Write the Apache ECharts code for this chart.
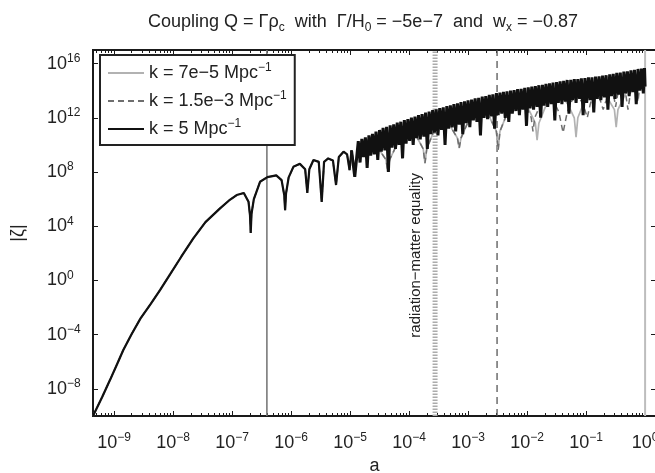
<!DOCTYPE html>
<html><head><meta charset="utf-8">
<script src="https://cdn.jsdelivr.net/npm/echarts@6/dist/echarts.min.js"></script>
<style>html,body{margin:0;padding:0;background:#fff}#c{width:655px;height:473px}</style>
</head><body><div id="c"></div>
<script>
// ---- data (log10 a, log10 |zeta|) ----
// shared super-horizon part (all three k identical, k=5 drawn on top)
const earlyLogA = [-9.356,-9.20,-9.068,-8.95,-8.842,-8.70,-8.55,-8.38,-8.22,-8.05,-7.86,-7.656,-7.45,-7.203,-7.05,-6.92,-6.80,-6.72,-6.695,-6.683,-6.67,-6.63,-6.525,-6.40,-6.25,-6.16,-6.115,-6.10,-6.085,-6.04,-5.96,-5.85,-5.76,-5.724,-5.69,-5.62,-5.53,-5.48,-5.44,-5.37,-5.29,-5.237,-5.19,-5.11,-5.05,-5.008,-4.975];
const earlyLogZeta = [-10.0,-8.6,-7.35,-6.2,-5.13,-3.95,-2.8,-1.75,-0.71,0.45,1.75,3.10,4.30,5.32,5.90,6.30,6.45,5.8,4.8,3.5,4.9,6.0,7.28,7.62,7.75,7.4,6.3,5.19,6.4,7.6,8.38,8.6,8.2,6.45,8.2,8.88,8.75,5.80,8.75,9.0,8.85,7.04,9.1,9.5,9.3,8.14,9.6];

// k = 5 Mpc^-1 after horizon crossing: crests and troughs of the dense oscillation
const k5CrestLogA = [-4.975,-4.86,-4.80,-4.74,-4.68,-4.62,-4.56,-4.50,-4.44,-4.38,-4.32,
  -4.26,-4.20,-4.14,-4.08,-4.02,-3.96,-3.90,-3.84,-3.78,-3.72,
  -3.66,-3.60,-3.54,-3.48,-3.42,-3.36,-3.30,-3.24,-3.18,-3.12,
  -3.06,-3.00,-2.94,-2.88,-2.82,-2.76,-2.70,-2.64,-2.58,-2.52,
  -2.46,-2.40,-2.34,-2.28,-2.22,-2.16,-2.10,-2.04,-1.98,-1.92,
  -1.86,-1.80,-1.74,-1.68,-1.62,-1.56,-1.50,-1.44,-1.38,-1.32,
  -1.26,-1.20,-1.14,-1.08,-1.02,-0.96,-0.90,-0.84,-0.78,-0.72,
  -0.66,-0.60,-0.54,-0.48,-0.42,-0.36,-0.30,-0.24,-0.18,-0.12,
  -0.06,-0.01];
const k5CrestLogZeta = [9.6,10.28,10.44,10.55,10.70,10.82,10.98,11.10,11.25,11.33,11.44,
  11.52,11.64,11.71,11.83,11.91,12.02,12.09,12.20,12.27,12.38,
  12.45,12.56,12.62,12.71,12.77,12.86,12.91,13.01,13.06,13.15,
  13.21,13.29,13.34,13.43,13.47,13.56,13.60,13.69,13.73,13.82,
  13.85,13.92,13.95,14.01,14.04,14.11,14.14,14.21,14.24,14.30,
  14.33,14.40,14.43,14.50,14.53,14.60,14.63,14.69,14.72,14.79,
  14.80,14.85,14.86,14.91,14.92,14.98,14.99,15.04,15.05,15.11,
  15.14,15.21,15.24,15.31,15.34,15.40,15.43,15.50,15.53,15.60,
  15.62,15.67];
const k5TroughLogA = [-4.92,
  -4.83,-4.77,-4.71,-4.65,-4.59,-4.53,-4.47,-4.41,-4.35,-4.29,
  -4.23,-4.17,-4.11,-4.05,-3.99,-3.93,-3.87,-3.81,-3.75,-3.69,
  -3.63,-3.57,-3.51,-3.45,-3.39,-3.33,-3.27,-3.21,-3.15,-3.09,
  -3.03,-2.97,-2.91,-2.85,-2.79,-2.73,-2.67,-2.61,-2.55,-2.49,
  -2.43,-2.37,-2.31,-2.25,-2.19,-2.13,-2.07,-2.01,-1.95,-1.89,
  -1.83,-1.77,-1.71,-1.65,-1.59,-1.53,-1.47,-1.41,-1.35,-1.29,
  -1.23,-1.17,-1.11,-1.05,-0.99,-0.93,-0.87,-0.81,-0.75,-0.69,
  -0.63,-0.57,-0.51,-0.45,-0.39,-0.33,-0.27,-0.21,-0.15,-0.09,
  -0.03,0.00];
const k5TroughLogZeta = [7.65,
  8.7,9.1,8.3,9.2,9.3,8.9,9.5,9.6,8.0,9.8,
  9.7,10.0,9.0,10.1,10.3,10.0,10.5,10.4,10.6,9.7,
  10.8,10.9,10.7,11.1,10.0,11.2,11.3,11.0,11.5,10.8,
  11.6,11.3,11.8,11.7,10.7,12.0,11.9,12.1,11.2,12.2,
  12.3,12.0,11.7,12.3,12.5,12.2,12.6,11.4,12.7,12.6,
  12.8,12.0,12.9,12.8,13.0,11.8,13.1,13.0,13.2,12.3,
  13.3,13.1,13.4,12.2,13.1,13.3,12.4,13.4,13.3,13.5,
  12.6,13.6,13.4,13.7,12.8,13.8,13.6,13.9,13.0,14.0,
  13.8,14.3];

// k = 7e-5 and k = 1.5e-3 share this stretch (both still super-horizon)
const slowLogA = [-4.92,-4.85,-4.72,-4.60,-4.50,-4.39,-4.36,-4.33,-4.22,-4.05,-3.87,-3.76,-3.73,-3.70,-3.59,-3.44,-3.29,-3.18,-3.15,-3.12,-3.01,-2.82,-2.63,-2.52,-2.49,-2.46,-2.35];
const slowLogZeta = [8.3,9.7,10.3,10.5,9.6,8.9,8.0,8.9,9.9,11.3,10.6,9.7,8.66,9.7,10.9,12.2,11.3,10.5,9.76,10.5,11.6,13.0,12.0,11.0,9.62,11.0,12.2];

// k = 7e-5 Mpc^-1 tail
const k7e5TailLogA = [-2.16,-1.97,-1.86,-1.83,-1.80,-1.69,-1.50,-1.31,-1.20,-1.17,-1.14,-1.03,-0.83,-0.63,-0.52,-0.49,-0.46,-0.35,-0.18,0.00];
const k7e5TailLogZeta = [13.6,12.6,11.6,10.35,11.6,12.8,14.1,13.0,12.0,10.57,12.0,13.2,14.5,13.4,12.6,11.31,12.6,13.6,15.0,15.1];

// k = 1.5e-3 Mpc^-1 tail (after its horizon crossing)
const k15e3TailLogA = [-2.16,-2.00,-1.93,-1.90,-1.87,-1.75,-1.60,-1.46,-1.39,-1.32,-1.18,-1.05,-0.98,-0.93,-0.84,-0.76,-0.71,-0.66,-0.60,-0.53,-0.50,-0.47,-0.40,-0.33,-0.29,-0.25,-0.20,-0.14,-0.12,-0.10,-0.03,0.00];
const k15e3TailLogZeta = [13.5,12.7,12.0,11.0,12.0,13.2,13.7,12.4,10.9,12.4,13.9,13.0,12.0,13.0,14.2,13.3,12.6,13.3,14.4,13.6,12.8,13.6,14.6,13.8,12.6,13.8,14.8,14.0,13.2,14.0,15.0,14.9];

// vertical markers (scale factor a)
const horizonK5 = 3.9e-7;
const horizonK15e3 = 3.1e-3;
const horizonK7e5 = 1.0;
const equalityA = 2.76e-4;

// axes
const xMin = 4.41e-10, xMax = 1.53;
const yMin = 1e-10, yMax = 1e17;
const xTickExp = [-9,-8,-7,-6,-5,-4,-3,-2,-1,0];
const yTickExp = [-8,-4,0,4,8,12,16];
const minorMult = [2,3,4,5,6,7,8,9];

const seriesNames = ['k = 7e−5 Mpc', 'k = 1.5e−3 Mpc', 'k = 5 Mpc'];

// ---- build ----
function pts(la, lz){ return la.map((e,i)=>[Math.pow(10,e), Math.pow(10,lz[i])]); }
const early = pts(earlyLogA, earlyLogZeta);
const slow = pts(slowLogA, slowLogZeta);
const dataK7e5 = early.concat(slow, pts(k7e5TailLogA, k7e5TailLogZeta));
const dataK15e3 = early.concat(slow, pts(k15e3TailLogA, k15e3TailLogZeta));
const dataK5Late = pts(k5CrestLogA, k5CrestLogZeta).concat(pts(k5TroughLogA, k5TroughLogZeta)).sort((p,q)=>p[0]-q[0]);
const vline = a => [[a, yMin], [a, yMax]];

const xMajor = xTickExp.map(e=>Math.pow(10,e));
const yMajor = yTickExp.map(e=>Math.pow(10,e));
const xMinor = [];
for (let n=-10;n<=0;n++) minorMult.forEach(m=>{const v=m*Math.pow(10,n); if(v>xMin&&v<xMax) xMinor.push(v);});

const FONT = 'Liberation Sans, Arial, Helvetica, sans-serif';
const sup = v => { const e = Math.round(Math.log10(v)); return '{b|10}{e|' + String(e).replace('-', '−') + '}'; };
const richTick = { b:{fontSize:18, fontFamily:FONT, color:'#222', lineHeight:22}, e:{fontSize:12, fontFamily:FONT, color:'#222', lineHeight:12, verticalAlign:'top'} };

const chart = echarts.init(document.getElementById('c'), null, {renderer:'canvas'});
function xAx(pos, minor, labels){
  return {type:'log', logBase:10, min:xMin, max:xMax, position:pos, gridIndex:0,
    axisLine:{show:false}, splitLine:{show:false},
    axisTick:{show:true, inside:true, length: minor?3:5, customValues: minor?xMinor:xMajor, lineStyle:{color:'#1a1a1a', width:1}},
    axisLabel:{show:labels, customValues:xMajor, formatter:sup, margin:16, rich:richTick},
    name: labels?'a':'', nameLocation:'middle', nameGap:41, nameTextStyle:{fontSize:18, fontFamily:FONT, color:'#222'}};
}
function yAx(pos, labels){
  return {type:'log', logBase:10, min:yMin, max:yMax, position:pos, gridIndex:0,
    axisLine:{show:false}, splitLine:{show:false},
    axisTick:{show:true, inside:true, length:5, customValues:yMajor, lineStyle:{color:'#1a1a1a', width:1}},
    axisLabel:{show:labels, customValues:yMajor, formatter:sup, align:'left', margin:46, rich:richTick},
    name: labels?'|ζ|':'', nameLocation:'middle', nameRotate:90, nameGap:66, nameTextStyle:{fontSize:18, fontFamily:FONT, color:'#222'}};
}
const base = {type:'line', showSymbol:false, symbol:'none', silent:true};

chart.setOption({
  animation:false,
  backgroundColor:'#fff',
  title:{ text:'{t|Coupling Q = Γρ}{s|c}{t|  with  Γ/H}{s|0}{t| = −5e−7  and  w}{s|x}{t| = −0.87}',
    left:358, top:5, textAlign:'center',
    textStyle:{ fontWeight:'normal', rich:{ t:{fontSize:18, fontWeight:'normal', fontFamily:FONT, color:'#222', lineHeight:24}, s:{fontSize:12, fontWeight:'normal', fontFamily:FONT, color:'#222', lineHeight:12, verticalAlign:'bottom'} } } },
  grid:{left:93, top:50, width:563, height:366, show:true, borderColor:'#1a1a1a', borderWidth:2, backgroundColor:'#fff', outerBoundsMode:'none', containLabel:false},
  xAxis:[xAx('bottom',false,true), xAx('bottom',true,false), xAx('top',false,false), xAx('top',true,false)],
  yAxis:[yAx('left',true), yAx('right',false)],
  legend:{ left:100, top:55, orient:'vertical', itemWidth:36, itemHeight:14, itemGap:8,
    padding:[7,8,7,7], backgroundColor:'#fff', borderColor:'#222', borderWidth:2, borderRadius:0,
    data:seriesNames, itemStyle:{opacity:0},
    formatter: n => '{t|' + n + '}{s|−1}',
    textStyle:{ color:'#222', rich:{ t:{fontSize:18, fontFamily:FONT, color:'#222', lineHeight:22}, s:{fontSize:12, fontFamily:FONT, color:'#222', lineHeight:12, verticalAlign:'top'} } } },
  series:[
    Object.assign({}, base, {name:'eq', data:vline(equalityA), z:1, lineStyle:{color:'#ababab', width:5, type:[1.5,1.5]}}),
    Object.assign({}, base, {name:'hc5', data:vline(horizonK5), z:1, lineStyle:{color:'#7a7a7a', width:1.6}}),
    Object.assign({}, base, {name:'hc15', data:vline(horizonK15e3), z:1, lineStyle:{color:'#555', width:1.3, type:[7,5]}}),
    Object.assign({}, base, {name:'hc7', data:vline(horizonK7e5), z:1, lineStyle:{color:'#bdbdbd', width:2}}),
    {name:seriesNames[0], type:'line', data:dataK7e5, showSymbol:false, symbol:'none', z:2,
      lineStyle:{color:'#b2b2b2', width:1.7}, itemStyle:{color:'#b2b2b2'}},
    {name:seriesNames[1], type:'line', data:dataK15e3, showSymbol:false, symbol:'none', z:3,
      lineStyle:{color:'#6e6e6e', width:1.5, type:[6,4]}, itemStyle:{color:'#6e6e6e'}},
    {name:seriesNames[2], type:'line', data:early, showSymbol:false, symbol:'none', z:4,
      lineStyle:{color:'#111', width:2.2}, itemStyle:{color:'#111'}},
    {name:seriesNames[2], type:'line', data:dataK5Late, showSymbol:false, symbol:'none', z:4,
      lineStyle:{color:'#111', width:3.0}, itemStyle:{color:'#111'}}
  ]
});

const ex = chart.convertToPixel({xAxisIndex:0}, equalityA);
chart.setOption({ graphic:[{ type:'text', x: ex - 19, y: 173, rotation: Math.PI/2, z:100,
  style:{ text:'radiation−matter equality', fontSize:15, fontFamily:FONT, fill:'#222', align:'right', verticalAlign:'middle' } }] });
</script></body></html>
